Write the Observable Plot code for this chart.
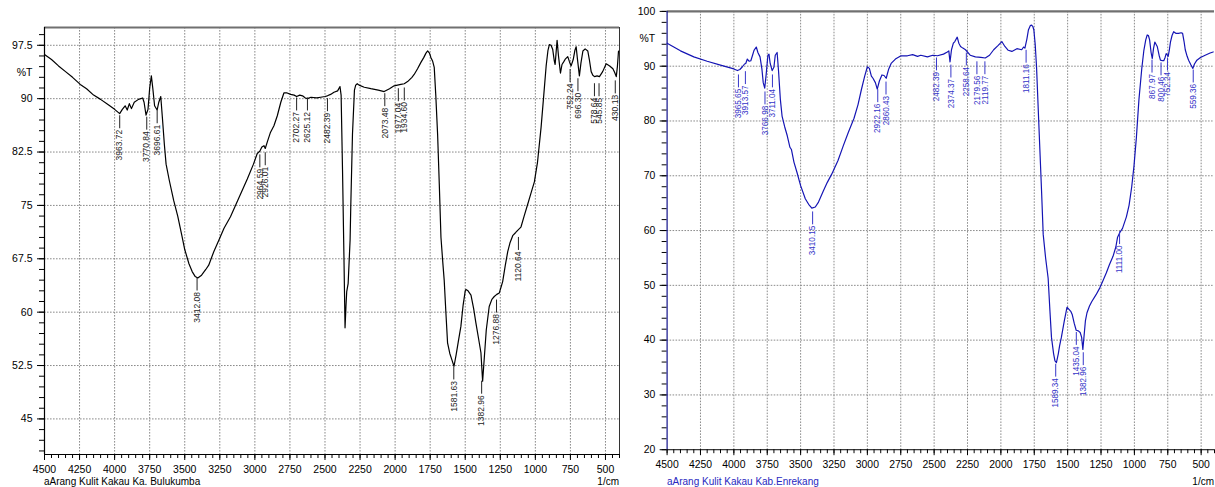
<!DOCTYPE html>
<html><head><meta charset="utf-8">
<script src="https://cdn.jsdelivr.net/npm/d3@7"></script>
<script src="https://cdn.jsdelivr.net/npm/@observablehq/plot@0.6"></script>
<style>
html,body{margin:0;padding:0;background:#fff;overflow:hidden;width:1215px;height:487px;}
#wrap{position:relative;width:1215px;height:487px;overflow:hidden;font-family:"Liberation Sans",Arial,sans-serif;}
.panel{position:absolute;top:0;}
.cap{position:absolute;font-size:10px;line-height:11px;white-space:nowrap;}
</style>
</head><body>
<div id="wrap"></div>
<script>
// ---------- DATA ----------
// Spectrum A: Arang Kulit Kakau Ka. Bulukumba  [wavenumber, %T]
const spectrumA = [
[4500,96.2],[4450,95.5],[4400,94.6],[4350,93.8],[4300,93.0],[4245,92.0],[4200,91.4],[4150,90.5],[4100,89.9],[4050,89.2],[4000,88.5],[3964,87.9],
[3945,88.5],[3925,89.0],[3910,88.4],[3895,89.3],[3880,88.6],[3860,89.5],[3830,89.9],[3800,90.1],[3790,89.5],[3776,87.7],[3762,88.5],
[3750,91.5],[3738,93.2],[3728,91.5],[3715,89.0],[3697,88.4],[3685,89.5],[3671,90.3],[3660,87.5],[3645,83.5],[3633,80.8],[3610,78.5],
[3579,75.7],[3550,73.5],[3519,70.6],[3500,68.8],[3470,66.8],[3447,65.7],[3425,65.0],[3407,64.8],[3380,65.2],[3350,66.0],[3329,66.6],
[3293,68.5],[3257,70.1],[3220,71.8],[3174,73.4],[3120,75.8],[3054,78.7],[3010,80.8],[2983,82.3],[2965,82.6],[2950,83.2],[2935,83.4],
[2926,83.0],[2910,84.0],[2890,85.2],[2864,86.2],[2840,87.6],[2815,89.5],[2793,90.8],[2770,90.8],[2745,90.6],[2720,90.5],[2702,90.3],
[2680,90.5],[2660,90.4],[2640,90.1],[2625,90.0],[2600,90.2],[2560,90.1],[2531,90.2],[2500,90.3],[2483,90.4],[2460,90.6],[2436,90.9],
[2410,91.1],[2393,91.7],[2385,90.5],[2375,80.0],[2365,68.0],[2357,57.8],[2350,61.0],[2345,62.9],[2335,64.0],[2321,70.1],[2316,75.0],
[2304,85.0],[2290,91.2],[2281,91.9],[2270,92.1],[2257,91.9],[2220,91.6],[2173,91.4],[2120,91.2],[2078,91.0],[2040,91.4],[2007,91.8],
[1959,92.0],[1935,92.1],[1911,92.4],[1880,93.0],[1864,93.4],[1840,94.2],[1816,95.1],[1795,95.8],[1780,96.4],[1768,96.7],[1755,96.4],
[1745,95.8],[1733,95.3],[1721,94.4],[1710,90.5],[1697,85.0],[1685,78.0],[1673,70.5],[1660,67.0],[1650,64.5],[1638,60.0],[1626,55.7],
[1610,54.2],[1595,53.3],[1580,52.4],[1565,54.0],[1550,55.8],[1531,58.0],[1515,61.0],[1500,63.0],[1495,63.2],[1480,63.0],[1459,62.4],
[1440,60.5],[1424,58.5],[1405,56.3],[1388,54.3],[1376,50.3],[1364,53.6],[1350,57.5],[1329,60.8],[1310,61.8],[1293,62.2],[1275,62.5],
[1257,62.7],[1245,63.5],[1233,64.3],[1215,66.5],[1197,68.5],[1180,69.8],[1160,70.8],[1140,71.2],[1126,71.5],[1110,71.8],[1102,72.0],
[1080,73.5],[1054,75.2],[1030,76.8],[1007,78.3],[985,81.0],[959,86.0],[940,90.5],[923,94.6],[910,96.8],[900,97.6],[888,97.5],
[876,96.9],[865,95.3],[859,94.8],[852,96.5],[845,98.2],[835,96.0],[821,93.6],[810,94.8],[797,95.2],[785,95.6],[769,95.9],[757,95.2],
[745,94.6],[730,95.5],[718,96.8],[709,97.3],[700,95.6],[686,93.2],[675,95.0],[661,96.7],[645,97.0],[626,96.7],[615,95.5],[602,93.8],
[590,93.3],[578,93.1],[560,93.2],[543,93.1],[520,93.8],[495,94.9],[470,94.6],[447,94.2],[435,93.7],[423,93.1],[415,94.5],[407,96.7]
];
// Spectrum B: Arang Kulit Kakau Kab.Enrekang  [wavenumber, %T]
const spectrumB = [
[4500,94.2],[4450,93.5],[4400,92.8],[4300,91.7],[4200,90.9],[4100,90.2],[4000,89.5],[3973,89.2],[3955,89.4],[3936,89.9],[3920,90.4],
[3911,90.5],[3899,91.3],[3885,90.9],[3873,91.0],[3860,92.0],[3849,92.9],[3832,93.5],[3820,92.5],[3804,91.7],[3790,89.5],[3780,87.0],
[3769,86.0],[3758,88.5],[3745,92.0],[3737,92.2],[3728,90.5],[3713,89.2],[3700,89.8],[3690,92.0],[3676,92.5],[3665,89.0],[3652,84.0],
[3639,80.9],[3620,79.0],[3600,77.3],[3580,75.2],[3569,74.8],[3550,72.5],[3527,70.6],[3500,68.2],[3465,65.8],[3440,64.8],[3416,64.1],
[3390,64.3],[3366,65.2],[3330,67.2],[3300,68.8],[3267,70.3],[3220,72.8],[3180,75.5],[3143,77.9],[3100,80.5],[3070,83.0],[3045,85.7],
[3020,88.2],[3000,89.9],[2985,89.6],[2970,88.2],[2958,87.8],[2940,87.0],[2926,85.8],[2910,87.3],[2891,88.4],[2875,88.3],[2859,87.8],
[2840,89.5],[2822,90.5],[2790,91.3],[2748,91.9],[2700,91.9],[2661,92.1],[2624,91.8],[2600,92.0],[2550,91.7],[2510,92.0],[2475,91.9],
[2430,92.2],[2401,92.6],[2390,92.8],[2381,90.8],[2370,93.0],[2356,94.2],[2345,94.5],[2327,95.3],[2315,94.2],[2302,93.6],[2285,93.3],
[2265,93.0],[2230,92.0],[2191,91.7],[2150,91.6],[2117,91.5],[2085,92.0],[2054,93.0],[2020,93.8],[1993,94.5],[1970,93.6],[1945,92.9],
[1918,92.7],[1880,93.2],[1844,93.0],[1830,93.5],[1820,93.3],[1805,95.0],[1794,96.6],[1780,97.4],[1770,97.5],[1760,97.2],[1753,96.6],
[1743,94.0],[1733,89.9],[1720,82.0],[1708,74.8],[1695,67.0],[1683,59.3],[1665,55.0],[1646,51.3],[1633,45.5],[1621,40.5],[1605,37.5],
[1595,36.2],[1584,35.9],[1570,37.5],[1560,39.0],[1547,40.5],[1525,43.5],[1505,46.0],[1490,45.6],[1475,45.2],[1466,44.7],[1450,43.0],
[1436,41.8],[1420,41.7],[1406,41.4],[1395,40.5],[1386,38.3],[1378,40.5],[1367,43.5],[1355,45.0],[1337,46.2],[1320,47.0],[1287,48.3],
[1260,49.5],[1238,50.7],[1210,52.3],[1188,53.7],[1160,55.3],[1139,57.0],[1126,58.8],[1110,59.6],[1089,60.4],[1060,62.5],[1040,64.6],
[1020,68.0],[1003,71.8],[985,77.0],[966,83.9],[945,89.5],[929,92.9],[915,94.8],[904,95.7],[895,95.6],[886,94.8],[875,92.5],[866,91.4],
[857,93.2],[847,94.4],[838,94.0],[829,93.6],[815,92.0],[805,91.1],[790,91.0],[780,91.0],[770,91.6],[762,92.3],[755,92.1],[747,91.8],
[738,93.0],[730,94.4],[718,95.6],[706,96.3],[690,96.0],[669,96.0],[650,96.1],[639,96.0],[628,94.5],[619,93.0],[605,91.8],[594,91.1],
[578,90.3],[562,89.6],[550,90.4],[532,91.1],[505,91.6],[470,92.0],[433,92.4],[410,92.6]
];
// Peak labels: [label, %T where the marker starts]
const peaksA = [
["3963.72",87.6],["3770.84",87.4],["3696.61",88.3],["3412.08",64.8],["2964.59",82.1],["2926.01",82.4],["2702.27",90.1],
["2625.12",90.1],["2482.39",90.0],["2073.48",90.7],["1977.04",91.4],["1934.60",91.5],["1581.63",52.3],["1382.96",50.3],
["1276.88",61.7],["1120.64",70.5],["752.24",94.1],["696.30",92.8],["578.64",92.1],["545.85",92.1],["430.13",92.5]
];
const peaksB = [
["3965.65",88.4],["3913.57",89.0],["3766.98",85.3],["3711.04",88.4],["3410.15",63.4],["2922.16",85.7],["2860.43",87.1],
["2482.39",91.5],["2374.37",90.2],["2258.64",92.4],["2179.56",90.8],["2119.77",90.8],["1811.16",92.9],["1589.34",35.6],
["1435.04",41.4],["1382.96",37.7],["1111.00",59.8],["867.97",91.1],["800.46",90.6],["752.24",91.5],["559.36",89.3]
];
// Axis ticks
const xMajor = [4500,4250,4000,3750,3500,3250,3000,2750,2500,2250,2000,1750,1500,1250,1000,750,500];
const xMinor = d3.range(4500, 399, -50);
const yMajorA = [97.5,90,82.5,75,67.5,60,52.5,45];
const yMinorA = d3.range(40.5, 100, 1.5);
const yMajorB = [100,90,80,70,60,50,40,30,20];
const yMinorB = d3.range(20, 100.1, 2);
const captionA = "aArang Kulit Kakau Ka. Bulukumba";
const captionB = "aArang Kulit Kakau Kab.Enrekang";

// ---------- DRAW ----------
const FONT = '"Liberation Sans", Arial, sans-serif';
function panel(cfg) {
  const plotH = cfg.height - cfg.mt - cfg.mb;
  const ppu = plotH / (cfg.ydom[1] - cfg.ydom[0]);
  const L = 13 / ppu;
  const peaks = cfg.peaks.map(([lab, t]) => ({wn: +lab, lab, t, b: t - L}));
  const gridX = cfg.xMajor.filter(v => v !== 4500);
  const gridY = cfg.yMajor.filter(v => v !== cfg.ydom[0] && v !== cfg.ydom[1]);
  const marks = [
    Plot.ruleX(gridX, {x: d => d, stroke: "#8a8a8a", strokeWidth: 1, strokeDasharray: "1.6,1.4"}),
    Plot.ruleY(gridY, {y: d => d, stroke: "#8a8a8a", strokeWidth: 1, strokeDasharray: "1.6,1.4"}),
    Plot.axisX(cfg.xMinor, {anchor: "bottom", tickSize: 4, tickFormat: () => "", label: null}),
    Plot.axisX(cfg.xMajor, {anchor: "bottom", tickSize: 6, tickPadding: 5, tickFormat: d => String(d), label: null, fontSize: 10.5}),
    Plot.axisY(cfg.yMinor, {anchor: "left", tickSize: 5, tickFormat: () => "", label: null}),
    Plot.axisY(cfg.yMajor, {anchor: "left", tickSize: 7, tickPadding: 5, tickFormat: d => String(d), label: null, fontSize: 10.5}),
    Plot.ruleY([cfg.ydom[1]], {stroke: "#707070", strokeWidth: 2.2}),
    Plot.ruleY([cfg.ydom[0]], {stroke: "#000", strokeWidth: 1}),
    Plot.ruleX([4500], {stroke: cfg.axisColor, strokeWidth: 1.2}),
    cfg.rightFrame ? Plot.ruleX([cfg.xdom[1]], {stroke: "#333", strokeWidth: 1}) : null,
    Plot.text(["%T"], {x: 4500, y: cfg.pctY, text: d => d, dx: cfg.pctDx, fontSize: 10.5, textAnchor: "middle", fill: "#000"}),
    Plot.line(cfg.data, {x: d => d[0], y: d => d[1], stroke: cfg.color, strokeWidth: 1.2}),
    Plot.ruleX(peaks, {x: "wn", y1: "t", y2: "b", stroke: cfg.labelColor, strokeWidth: 1}),
    Plot.text(peaks, {x: "wn", y: "b", text: "lab", rotate: -90, textAnchor: "end", dy: 1, fontSize: cfg.labelSize, fill: cfg.labelColor})
  ].filter(Boolean);
  return Plot.plot({
    width: cfg.width, height: cfg.height,
    marginLeft: cfg.ml, marginRight: 1, marginTop: cfg.mt, marginBottom: cfg.mb,
    style: {fontFamily: FONT, background: "transparent", overflow: "visible"},
    x: {domain: cfg.xdom},
    y: {domain: cfg.ydom},
    marks
  });
}

const wrap = document.getElementById("wrap");
function place(svg, left) {
  const d = document.createElement("div");
  d.className = "panel"; d.style.left = left + "px";
  d.appendChild(svg); wrap.appendChild(d);
}
const A = panel({data: spectrumA, peaks: peaksA, xdom: [4500, 400], ydom: [40, 100], width: 620, height: 476,
  ml: 44, mt: 27, mb: 22, xMajor, xMinor, yMajor: yMajorA, yMinor: yMinorA, color: "#000", labelColor: "#222",
  labelSize: 8.5, axisColor: "#000", rightFrame: true, pctY: 93.6, pctDx: -20});
place(A, 0);
const B = panel({data: spectrumB, peaks: peaksB, xdom: [4500, 400], ydom: [20, 100], width: 600, height: 476,
  ml: 47, mt: 11, mb: 23, xMajor, xMinor, yMajor: yMajorB, yMinor: yMinorB, color: "#1414b4", labelColor: "#3434c8",
  labelSize: 8.2, axisColor: "#10108a", rightFrame: false, pctY: 95.1, pctDx: -20});
place(B, 620);

function cap(text, left, top, color, align) {
  const c = document.createElement("div");
  c.className = "cap"; c.textContent = text; c.style.top = top + "px"; c.style.color = color;
  if (align === "right") c.style.right = left + "px"; else c.style.left = left + "px";
  wrap.appendChild(c);
}
cap(captionA, 44, 476, "#000");
cap("1/cm", 1215 - 619, 476, "#000", "right");
cap(captionB, 667, 476, "#2828c0");
cap("1/cm", 1, 476, "#000", "right");
</script>
</body></html>
